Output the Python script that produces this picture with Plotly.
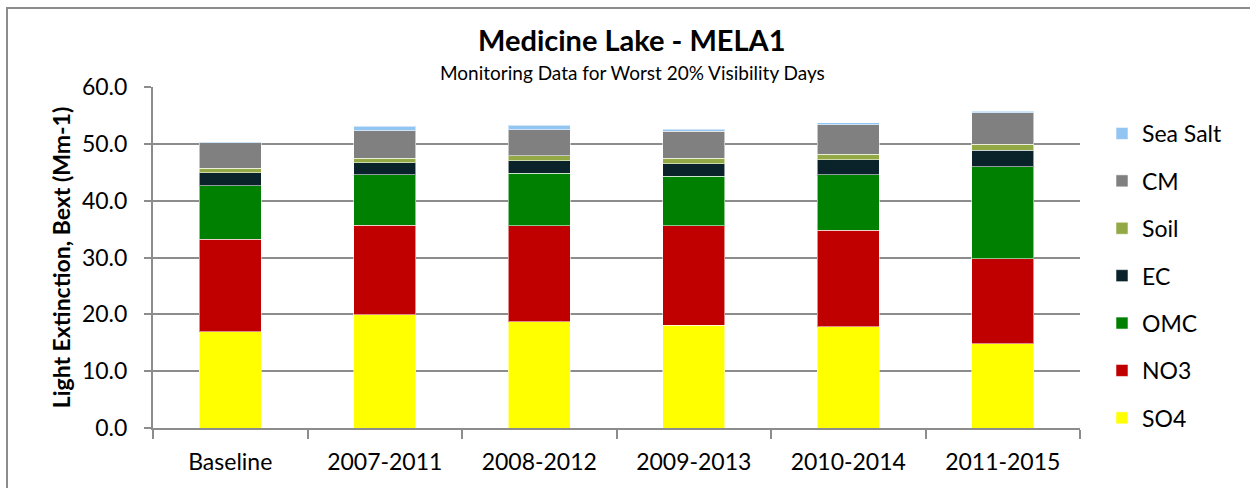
import plotly.graph_objects as go

# Light extinction components (Mm-1) for each period
periods = ["Baseline", "2007-2011", "2008-2012", "2009-2013", "2010-2014", "2011-2015"]
so4 = [16.9, 19.9, 18.7, 18.1, 17.8, 14.8]
no3 = [16.3, 15.8, 16.9, 17.5, 17.0, 15.0]
omc = [9.4, 8.9, 9.2, 8.7, 9.8, 16.2]
ec = [2.3, 2.1, 2.2, 2.2, 2.6, 2.9]
soil = [0.8, 0.8, 0.9, 1.0, 1.0, 1.0]
cm = [4.5, 4.8, 4.6, 4.7, 5.2, 5.6]
sea_salt = [0.1, 0.8, 0.8, 0.4, 0.3, 0.2]

y_ticks = [0, 10, 20, 30, 40, 50, 60]
y_tick_labels = ["0.0", "10.0", "20.0", "30.0", "40.0", "50.0", "60.0"]

series = [
    ("SO4", so4, "#FFFF00"),
    ("NO3", no3, "#C00000"),
    ("OMC", omc, "#008000"),
    ("EC", ec, "#0A2229"),
    ("Soil", soil, "#93A945"),
    ("CM", cm, "#808080"),
    ("Sea Salt", sea_salt, "#93C5F2"),
]

FONT = "Lato"
FS = 23

fig = go.Figure()
for i, (name, vals, color) in enumerate(series):
    fig.add_trace(go.Bar(
        x=periods, y=vals, name=name, legendgroup=name,
        legendrank=100 - i,  # top of the stack listed first
        marker=dict(color=color, line=dict(color="rgba(255,255,255,0.55)", width=1)),
    ))

# plot area in pixels: x 153..1080, y 87..428
L, R, T, B = 153, 1080, 87, 428
W, H = R - L, B - T

def px(x):
    return (x - L) / W

def py(y):
    return (B - y) / H

fig.update_layout(
    width=1250, height=488,
    margin=dict(l=L, r=1250 - R, t=T, b=488 - B),
    paper_bgcolor="white", plot_bgcolor="white",
    barmode="stack", bargap=0.6,
    font=dict(family=FONT, size=FS, color="black"),
    showlegend=True,
    legend=dict(
        traceorder="grouped", tracegroupgap=14.5,
        x=px(1102), xanchor="left", y=py(112), yanchor="top",
        font=dict(family=FONT, size=FS, color="black"),
        bgcolor="rgba(0,0,0,0)", itemclick=False,
    ),
    xaxis=dict(
        showline=True, linecolor="#8c8c8c", linewidth=2,
        ticks="outside", tickson="boundaries", ticklen=9, tickcolor="#8c8c8c", tickwidth=2,
        tickfont=dict(family=FONT, size=FS), showgrid=False, ticklabelstandoff=12,
    ),
    yaxis=dict(
        range=[0, 60], tickvals=y_ticks, ticktext=y_tick_labels,
        showline=True, linecolor="#8c8c8c", linewidth=2,
        ticks="outside", ticklen=7, tickcolor="#8c8c8c", tickwidth=2,
        showgrid=True, gridcolor="#8c8c8c", gridwidth=2, zeroline=False,
        tickfont=dict(family=FONT, size=FS), ticklabelstandoff=12,
        title=dict(text="<b>Light Extinction, Bext (Mm-1)</b>", font=dict(family=FONT, size=FS), standoff=5),
    ),
    shapes=[dict(
        type="rect", xref="paper", yref="paper",
        x0=px(7), x1=px(1270), y0=py(8), y1=py(510),
        line=dict(color="#8c8c8c", width=2), fillcolor="rgba(0,0,0,0)", layer="below",
    )],
    annotations=[
        dict(text="<b>Medicine Lake - MELA1</b>", xref="paper", yref="paper",
             x=px(632), y=py(40), xanchor="center", yanchor="middle", showarrow=False,
             font=dict(family=FONT, size=29, color="black")),
        dict(text="Monitoring Data for Worst 20% Visibility Days", xref="paper", yref="paper",
             x=px(632), y=py(72), xanchor="center", yanchor="middle", showarrow=False,
             font=dict(family=FONT, size=19, color="black")),
    ],
)

fig.write_html("out.html")
